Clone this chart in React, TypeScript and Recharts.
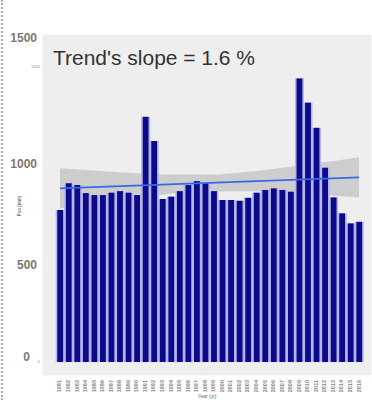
import { ComposedChart, Bar, Area, Line, XAxis, YAxis, CartesianGrid } from 'recharts'

const years = [
  1981, 1982, 1983, 1984, 1985, 1986, 1987, 1988, 1989, 1990, 1991, 1992,
  1993, 1994, 1995, 1996, 1997, 1998, 1999, 2000, 2001, 2002, 2003, 2004,
  2005, 2006, 2007, 2008, 2009, 2010, 2011, 2012, 2013, 2014, 2015, 2016,
]

// annual precipitation (mm)
const precip = [
  773, 909, 900, 859, 849, 849, 861, 869, 861, 849, 1247, 1124,
  829, 841, 869, 900, 920, 909, 869, 824, 824, 820, 835, 861,
  875, 883, 875, 866, 1442, 1319, 1191, 988, 837, 756, 705, 713,
]

// fitted trend, end points only
const trend = [
  883, null, null, null, null, null, null, null, null, null, null, null,
  null, null, null, null, null, null, null, null, null, null, null, null,
  null, null, null, null, null, null, null, null, null, null, null, 939,
]

// confidence band of the fit
const bandLow = [
  781, null, null, null, null, null, 819, null, null, null, null, null,
  851, null, null, null, null, 867, null, null, null, null, null, 868,
  null, null, null, null, null, 855, null, null, null, null, null, 837,
]
const bandHigh = [
  985, null, null, null, null, null, 967, null, null, null, null, null,
  954, null, null, null, null, 953, null, null, null, null, null, 972,
  null, null, null, null, null, 1004, null, null, null, null, null, 1041,
]

const yTicks = [0, 500, 1000, 1500]

const data = years.map((year, i) => ({
  year,
  precip: precip[i],
  trend: trend[i],
  band: bandLow[i] != null ? [bandLow[i], bandHigh[i]] : null,
}))

const FONT = '"Liberation Sans", Arial, sans-serif'

function BarShape(props: any) {
  const { x, y, width, height } = props
  if (!height || height <= 0) return null
  return (
    <g>
      <rect x={x} y={y} width={width} height={height} fill="#b4b4ef" />
      <rect x={x + 1.6} y={y} width={width - 3.2} height={height} fill="#0b0b8a" />
    </g>
  )
}

function YTick(props: any) {
  const { x, y, payload } = props
  const v = payload.value
  // large labels sit a little off their ticks; small ones show only where uncovered
  let bx = x - 3
  let by = y - 2
  let small = false
  if (v === 1500) {
    by = y - 29
    small = true
  }
  if (v === 500) by = y + 1
  if (v === 0) {
    bx = x - 10
    by = y - 5
    small = true
  }
  return (
    <g>
      {small && (
        <text x={x} y={y} dy="0.35em" textAnchor="end" fontSize={4} fill="#888" fontFamily={FONT}>
          {v}
        </text>
      )}
      <text x={bx} y={by} dy="0.35em" textAnchor="end" fontSize={12} fontWeight={600} fill="#777" fontFamily={FONT}>
        {v}
      </text>
    </g>
  )
}

function XTick(props: any) {
  const { x, y, payload } = props
  return (
    <text
      transform={`translate(${x + 1.5},${y}) rotate(-90)`}
      textAnchor="end"
      fontSize={5.5}
      fontWeight={600}
      fill="#888"
      fontFamily={FONT}
    >
      {payload.value}
    </text>
  )
}

export default function App() {
  return (
    <div style={{ position: 'absolute', left: 0, top: 0, width: 372, height: 400, background: '#fff' }}>
      <div style={{ position: 'absolute', left: 1, top: 0, height: 400, borderLeft: '2px dotted #aaa' }} />
      <ComposedChart
        width={372}
        height={400}
        data={data}
        barCategoryGap={0}
        margin={{ top: 35, right: 1, bottom: 0, left: 0 }}
      >
        <CartesianGrid fill="#eeeeee" stroke="#eeeeee" />
        <XAxis
          dataKey="year"
          interval={0}
          height={25}
          tickSize={0}
          tickMargin={5}
          axisLine={false}
          tickLine={false}
          tick={<XTick />}
          padding={{ left: 12.7, right: 7.7 }}
          label={{ value: 'Year (yr)', position: 'insideBottom', offset: 2, fontSize: 5, fill: '#666', fontFamily: FONT }}
        />
        <YAxis
          width={43}
          type="number"
          domain={[-66, 1663]}
          ticks={yTicks}
          tickSize={0}
          tickMargin={3}
          axisLine={false}
          tickLine={false}
          tick={<YTick />}
        />
        <Bar dataKey="precip" shape={<BarShape />} isAnimationActive={false} />
        <Area
          dataKey="band"
          type="monotone"
          connectNulls
          stroke="none"
          fill="#999999"
          fillOpacity={0.38}
          dot={false}
          activeDot={false}
          isAnimationActive={false}
        />
        <Line
          dataKey="trend"
          type="linear"
          connectNulls
          stroke="#3a68e4"
          strokeWidth={1.6}
          dot={false}
          activeDot={false}
          isAnimationActive={false}
        />
      </ComposedChart>
      <svg width={372} height={400} style={{ position: 'absolute', left: 0, top: 0, pointerEvents: 'none' }}>
        <text x={53} y={65} fontSize={20.5} fill="#333" fontFamily={FONT} textLength={202} lengthAdjust="spacingAndGlyphs">
          Trend's slope = 1.6 %
        </text>
        <text
          transform="translate(21,206) rotate(-90)"
          textAnchor="middle"
          fontSize={4.5}
          fontWeight={600}
          fill="#777"
          fontFamily={FONT}
        >
          Pxx (mm)
        </text>
      </svg>
    </div>
  )
}
